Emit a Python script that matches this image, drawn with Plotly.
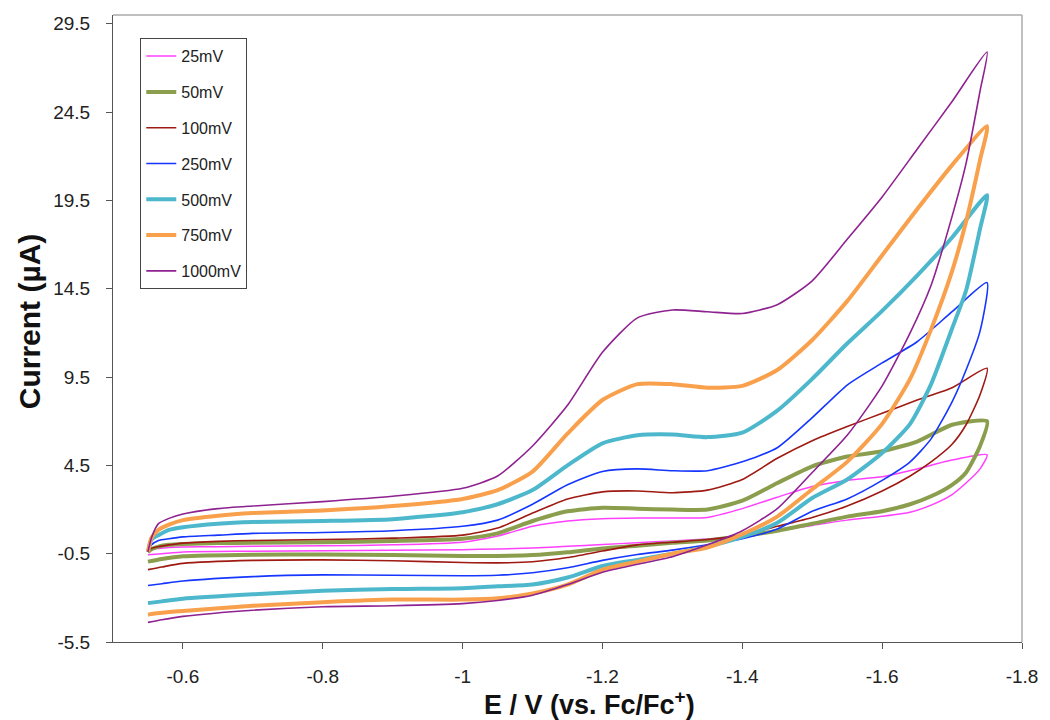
import plotly.graph_objects as go

# Potential grids (V vs Fc/Fc+): forward scan then reverse scan
E_fwd = [-0.55, -0.555, -0.565, -0.58, -0.6, -0.65, -0.7, -0.8, -0.9, -1.0, -1.05, -1.1, -1.15,
         -1.2, -1.25, -1.3, -1.35, -1.4, -1.45, -1.5, -1.55, -1.6, -1.65, -1.7, -1.75]
E_rev = [-1.74, -1.72, -1.7, -1.67, -1.64, -1.6, -1.55, -1.5, -1.45, -1.4, -1.35, -1.3, -1.25,
         -1.2, -1.15, -1.1, -1.05, -1.0, -0.9, -0.8, -0.7, -0.6, -0.57, -0.55]

# Currents (uA) per scan rate
I_25_fwd = [-0.35, -0.25, -0.2, -0.15, -0.12, -0.1, -0.08, -0.05, 0.0, 0.15, 0.5, 1.05, 1.35,
            1.48, 1.52, 1.52, 1.55, 2.05, 2.7, 3.3, 3.65, 3.85, 4.3, 4.8, 5.1]
I_25_rev = [4.3, 3.5, 2.85, 2.25, 1.85, 1.62, 1.4, 1.1, 0.8, 0.5, 0.33, 0.22, 0.12,
            0.02, -0.08, -0.18, -0.23, -0.27, -0.3, -0.33, -0.36, -0.4, -0.5, -0.56]

I_50_fwd = [-0.4, -0.25, -0.1, 0.0, 0.05, 0.1, 0.12, 0.15, 0.22, 0.35, 0.65, 1.35, 1.9,
            2.1, 2.05, 2.0, 2.0, 2.5, 3.5, 4.45, 5.0, 5.3, 5.85, 6.8, 7.0]
I_50_rev = [5.6, 4.1, 3.4, 2.75, 2.3, 1.9, 1.6, 1.2, 0.8, 0.5, 0.25, 0.12, -0.05,
            -0.2, -0.42, -0.58, -0.63, -0.63, -0.58, -0.55, -0.56, -0.65, -0.8, -0.95]

I_100_fwd = [-0.4, -0.2, -0.1, 0.0, 0.1, 0.2, 0.25, 0.3, 0.38, 0.55, 0.95, 1.8, 2.6,
             3.0, 3.05, 2.95, 3.1, 3.7, 4.9, 5.9, 6.7, 7.45, 8.2, 8.9, 10.0]
I_100_rev = [8.5, 6.8, 5.7, 4.7, 3.9, 3.05, 2.2, 1.55, 1.05, 0.55, 0.3, 0.15, 0.0,
             -0.35, -0.72, -0.96, -1.02, -1.0, -0.9, -0.85, -0.88, -1.05, -1.25, -1.4]

I_250_fwd = [-0.4, 0.0, 0.25, 0.35, 0.45, 0.55, 0.65, 0.7, 0.8, 1.05, 1.4, 2.3, 3.4,
             4.15, 4.3, 4.2, 4.2, 4.7, 5.5, 7.2, 9.05, 10.3, 11.5, 13.2, 14.85]
I_250_rev = [12.1, 9.9, 8.1, 6.0, 4.7, 3.65, 2.6, 1.9, 0.9, 0.35, 0.0, -0.3, -0.55,
             -0.88, -1.3, -1.58, -1.72, -1.75, -1.72, -1.7, -1.8, -2.05, -2.2, -2.3]

I_500_fwd = [-0.4, 0.3, 0.55, 0.85, 1.0, 1.2, 1.3, 1.35, 1.45, 1.85, 2.3, 3.1, 4.5,
             5.75, 6.2, 6.25, 6.1, 6.35, 7.6, 9.4, 11.4, 13.25, 15.25, 17.4, 19.8]
I_500_rev = [17.9, 14.4, 12.25, 9.1, 6.85, 5.2, 3.7, 2.65, 1.25, 0.45, -0.1, -0.5, -0.85,
             -1.2, -1.85, -2.25, -2.35, -2.45, -2.5, -2.6, -2.8, -3.05, -3.2, -3.3]

I_750_fwd = [-0.4, 0.4, 0.85, 1.15, 1.4, 1.65, 1.8, 1.95, 2.2, 2.6, 3.1, 4.15, 6.3,
             8.2, 9.1, 9.1, 8.9, 9.0, 9.9, 11.6, 13.8, 16.4, 19.0, 21.5, 23.7]
I_750_rev = [21.8, 18.3, 15.5, 12.2, 9.4, 6.85, 4.7, 3.15, 1.6, 0.6, -0.15, -0.5, -0.95,
             -1.4, -2.25, -2.75, -3.02, -3.1, -3.1, -3.25, -3.45, -3.75, -3.85, -3.95]

I_1000_fwd = [-0.4, 0.4, 1.2, 1.5, 1.75, 2.05, 2.2, 2.45, 2.75, 3.2, 3.9, 5.6, 7.9,
              10.9, 12.85, 13.3, 13.2, 13.1, 13.6, 14.95, 17.3, 19.7, 22.4, 25.1, 27.9]
I_1000_rev = [25.7, 21.6, 18.6, 14.7, 12.0, 9.0, 6.2, 4.1, 2.05, 0.8, 0.0, -0.67, -1.1,
              -1.55, -2.25, -2.85, -3.15, -3.33, -3.45, -3.5, -3.7, -4.05, -4.24, -4.39]

series_names = ["25mV", "50mV", "100mV", "250mV", "500mV", "750mV", "1000mV"]
series_fwd = [I_25_fwd, I_50_fwd, I_100_fwd, I_250_fwd, I_500_fwd, I_750_fwd, I_1000_fwd]
series_rev = [I_25_rev, I_50_rev, I_100_rev, I_250_rev, I_500_rev, I_750_rev, I_1000_rev]
series_colors = ["#FF40FF", "#8A9E4E", "#9E1A12", "#1536FF", "#4DB8CC", "#F9A04C", "#8E2290"]
series_widths = [1.5, 4, 1.6, 1.6, 4, 4, 1.6]

x_tickvals = [-0.6, -0.8, -1.0, -1.2, -1.4, -1.6, -1.8]
x_ticktext = ["-0.6", "-0.8", "-1", "-1.2", "-1.4", "-1.6", "-1.8"]
y_tickvals = [-5.5, -0.5, 4.5, 9.5, 14.5, 19.5, 24.5, 29.5]
y_ticktext = ["-5.5", "-0.5", "4.5", "9.5", "14.5", "19.5", "24.5", "29.5"]

FONT = "Liberation Sans, Arial, sans-serif"

fig = go.Figure()
for name, fwd, rev, col, w in zip(series_names, series_fwd, series_rev, series_colors, series_widths):
    fig.add_trace(go.Scatter(
        x=E_fwd + E_rev, y=fwd + rev, mode="lines", name=name, legendgroup=name,
        line=dict(color=col, width=w, shape="spline", smoothing=0.6),
    ))

fig.update_layout(
    width=1050, height=720,
    margin=dict(l=113, r=23, t=15, b=78),
    plot_bgcolor="white", paper_bgcolor="white",
    font=dict(family=FONT, color="#222222"),
    showlegend=True,
    legend=dict(x=0.03, y=0.963, xanchor="left", yanchor="top",
                bordercolor="#444444", borderwidth=1, bgcolor="white",
                font=dict(size=16, family=FONT, color="#222222"),
                tracegroupgap=12, itemwidth=30),
    xaxis=dict(range=[-0.5, -1.8], tickvals=x_tickvals, ticktext=x_ticktext,
               ticks="outside", ticklen=6, tickcolor="#555555",
               showline=True, linecolor="#555555", linewidth=1,
               showgrid=False, zeroline=False, ticklabelstandoff=11,
               tickfont=dict(size=19, family=FONT, color="#222222")),
    yaxis=dict(range=[-5.5, 30], tickvals=y_tickvals, ticktext=y_ticktext,
               ticks="outside", ticklen=6, tickcolor="#555555",
               showline=True, linecolor="#555555", linewidth=1,
               showgrid=False, zeroline=False, ticklabelstandoff=12,
               tickfont=dict(size=19, family=FONT, color="#222222")),
    annotations=[
        dict(text="<b>E / V (vs. Fc/Fc<sup>+</sup>)</b>", xref="paper", yref="paper",
             x=0.524, y=-0.097, xanchor="center", yanchor="middle", showarrow=False,
             font=dict(size=27, family=FONT, color="#111111")),
        dict(text="<b>Current (µA)</b>", xref="paper", yref="paper", textangle=-90,
             x=-0.091, y=0.512, xanchor="center", yanchor="middle", showarrow=False,
             font=dict(size=30, family=FONT, color="#111111")),
    ],
    shapes=[
        dict(type="line", xref="paper", yref="paper", x0=0, x1=1, y0=1, y1=1,
             line=dict(color="#AAAAAA", width=1.5)),
        dict(type="line", xref="paper", yref="paper", x0=1, x1=1, y0=0, y1=1,
             line=dict(color="#AAAAAA", width=1.5)),
    ],
)

fig.write_html("out.html")
